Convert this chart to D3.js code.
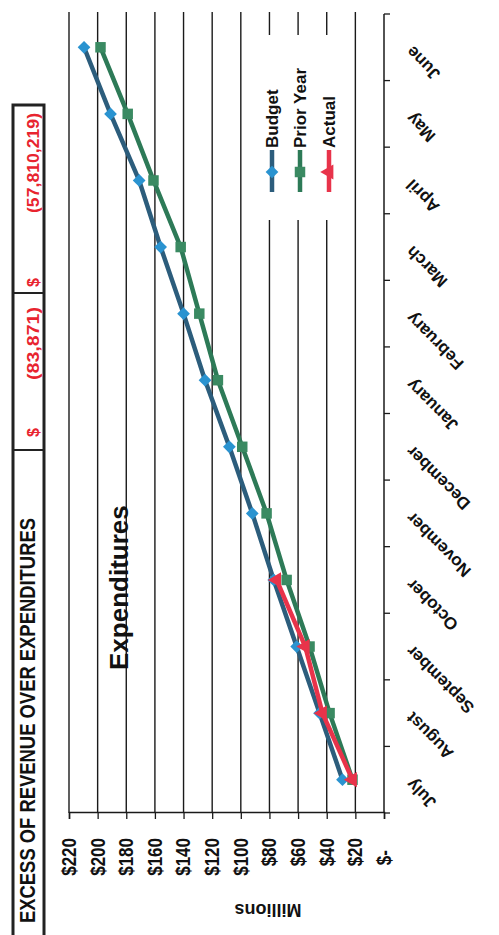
<!DOCTYPE html>
<html><head><meta charset="utf-8">
<script src="https://cdn.jsdelivr.net/npm/d3@7"></script>
<style>body{margin:0;background:#fff}svg{display:block}</style>
</head><body>
<script>
const months = ["July","August","September","October","November","December","January","February","March","April","May","June"];
const budget = [29, 45, 61, 77, 92, 108, 125, 140, 156, 171, 191, 209.5];
const priorYear = [22, 38, 52, 68, 82, 99, 116, 129, 142, 161, 179, 198];
const actual = [22, 43, 55, 75];
const valueTicks = [0, 20, 40, 60, 80, 100, 120, 140, 160, 180, 200, 220];
const tickLabels = ["$-", "$20", "$40", "$60", "$80", "$100", "$120", "$140", "$160", "$180", "$200", "$220"];
const legendLabels = ["Budget", "Prior Year", "Actual"];
const titleText = "EXCESS OF REVENUE OVER EXPENDITURES";
const summaryValues = ["(83,871)", "(57,810,219)"];
const chartTitle = "Expenditures";
const axisTitle = "Millions";

const W = 499, H = 935;
const FONT = "'Liberation Sans', Arial, sans-serif";
const svg = d3.select("body").append("svg").attr("width", W).attr("height", H)
  .style("font-family", FONT).style("font-weight", "bold");
// draw in the original (landscape) orientation, then rotate the page
const g = svg.append("g").attr("transform", `translate(0,${H}) rotate(-90)`);

const x = d3.scaleBand().domain(months).range([122, 921]);
const cx = m => x(m) + x.bandwidth() / 2;
const y = d3.scaleLinear().domain([0, 220]).range([384, 69]);

function squeeze(sel, f) {
  sel.each(function () {
    const L = this.getComputedTextLength();
    d3.select(this).attr("textLength", L * f).attr("lengthAdjust", "spacingAndGlyphs");
  });
}

// gridlines
g.append("g").selectAll("line").data(valueTicks.filter(v => v > 0)).join("line")
  .attr("x1", 122).attr("x2", 923).attr("y1", d => y(d)).attr("y2", d => y(d))
  .attr("stroke", "#1a1a1a").attr("stroke-width", 1.4);

// value axis
const yAxis = d3.axisLeft(y).tickValues(valueTicks).tickSize(6).tickPadding(20)
  .tickFormat((d, i) => tickLabels[i]);
const ya = g.append("g").attr("transform", "translate(122,0)").call(yAxis);
ya.select(".domain").attr("stroke", "#1a1a1a").attr("stroke-width", 1.5);
ya.selectAll(".tick line").attr("stroke", "#1a1a1a").attr("stroke-width", 1.3);
ya.selectAll(".tick text").attr("font-size", 20).attr("font-family", FONT)
  .attr("font-weight", "bold").attr("fill", "#111");
ya.selectAll(".tick text").attr("x", (d, i) => i === 0 ? -37 : -25);
squeeze(ya.selectAll(".tick text"), 0.85);

// category axis
const bounds = months.map(m => x(m)).concat([x.range()[1]]);
const xa = g.append("g");
xa.append("line").attr("x1", 122).attr("x2", 921).attr("y1", y(0)).attr("y2", y(0))
  .attr("stroke", "#1a1a1a").attr("stroke-width", 1.5);
xa.selectAll("line.tk").data(bounds).join("line").attr("class", "tk")
  .attr("x1", d => d).attr("x2", d => d).attr("y1", y(0)).attr("y2", y(0) + 6)
  .attr("stroke", "#1a1a1a").attr("stroke-width", 1.3);
xa.selectAll("text").data(months).join("text")
  .attr("transform", d => `translate(${cx(d) - 2},${y(0) + 25}) rotate(-45)`)
  .attr("text-anchor", "end").attr("dy", "0.35em")
  .attr("font-size", 17).attr("fill", "#111").text(d => d);

// axis title
g.append("text").attr("transform", `translate(31,268) rotate(-90)`)
  .attr("text-anchor", "middle").attr("font-size", 18).attr("fill", "#111").text(axisTitle);

// chart title
g.append("text").attr("x", 265).attr("y", 128).attr("font-size", 26)
  .attr("fill", "#111").text(chartTitle);

// series
const series = [
  { name: legendLabels[0], vals: budget, line: "#2c5d7c", mark: "#2a93d0", sym: "diamond" },
  { name: legendLabels[1], vals: priorYear, line: "#2d7a57", mark: "#3a8a62", sym: "square" },
  { name: legendLabels[2], vals: actual, line: "#e8334a", mark: "#e8334a", sym: "triangle" }
];
const lineGen = d3.line().x((d, i) => cx(months[i])).y(d => y(d));
function symPath(s) {
  if (s === "diamond") return d3.symbol(d3.symbolSquare, 81)();
  if (s === "square") return d3.symbol(d3.symbolSquare, 110)();
  return d3.symbol(d3.symbolTriangle, 100)();
}
function symRot(s) { return s === "diamond" ? 45 : 0; }
series.forEach(s => {
  const sg = g.append("g");
  sg.append("path").attr("d", lineGen(s.vals)).attr("fill", "none")
    .attr("stroke", s.line).attr("stroke-width", 4.5).attr("stroke-linejoin", "round");
  sg.selectAll("path.m").data(s.vals).join("path").attr("class", "m")
    .attr("d", symPath(s.sym))
    .attr("transform", (d, i) => `translate(${cx(months[i])},${y(d)}) rotate(${symRot(s.sym)})`)
    .attr("fill", s.mark);
});

// legend
const lg = g.append("g");
lg.append("rect").attr("x", 715).attr("y", 255).attr("width", 185).attr("height", 88).attr("fill", "#fff");
const ly = [272, 300, 329];
series.forEach((s, i) => {
  lg.append("line").attr("x1", 743).attr("x2", 785).attr("y1", ly[i]).attr("y2", ly[i])
    .attr("stroke", s.line).attr("stroke-width", 4.5);
  lg.append("path").attr("d", symPath(s.sym))
    .attr("transform", `translate(763,${ly[i]}) rotate(${symRot(s.sym)})`).attr("fill", s.mark);
  lg.append("text").attr("x", 787).attr("y", ly[i]).attr("dy", "0.35em")
    .attr("font-size", 17).attr("fill", "#111").text(s.name);
});

// header box
const hb = g.append("g");
hb.append("rect").attr("x", -20).attr("y", 13).attr("width", 850).attr("height", 31)
  .attr("fill", "#fff").attr("stroke", "#222").attr("stroke-width", 3);
[485, 642].forEach(v => hb.append("line").attr("x1", v).attr("x2", v).attr("y1", 13).attr("y2", 44)
  .attr("stroke", "#222").attr("stroke-width", 2));
hb.append("text").attr("x", 12).attr("y", 35).attr("font-size", 22).attr("fill", "#111")
  .attr("textLength", 405).attr("lengthAdjust", "spacingAndGlyphs").text(titleText);
[[498, 628, summaryValues[0], 73], [648, 822, summaryValues[1], 100]].forEach(([dx, ex, t, L]) => {
  hb.append("text").attr("x", dx).attr("y", 39).attr("font-size", 16).attr("fill", "#e8242f").text("$");
  hb.append("text").attr("x", ex).attr("y", 39).attr("text-anchor", "end").attr("font-size", 16)
    .attr("fill", "#e8242f").attr("textLength", L).attr("lengthAdjust", "spacingAndGlyphs").text(t);
});
</script>
</body></html>
